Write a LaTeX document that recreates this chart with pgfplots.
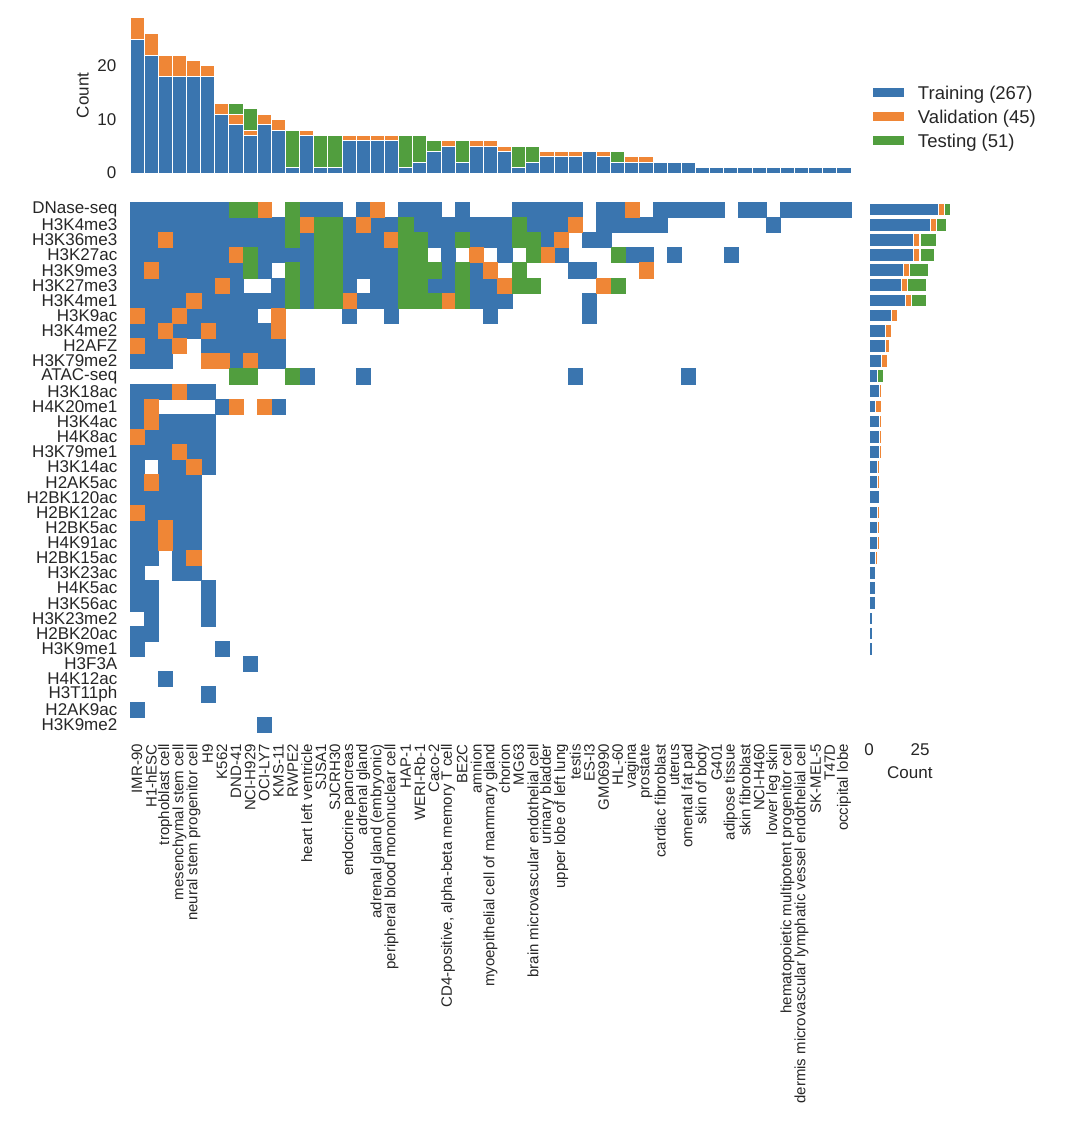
\documentclass[border=0pt]{standalone}
\usepackage{pgfplots}
\pgfplotsset{compat=1.18}
\usepackage{pgfplotstable}
\usepackage{fontspec}
\setmainfont{Liberation Sans}
\definecolor{cb}{RGB}{58,117,175}
\definecolor{co}{RGB}{239,134,54}
\definecolor{cg}{RGB}{81,158,62}
\definecolor{txt}{RGB}{38,38,38}
\newcommand{\fs}[1]{\fontsize{#1}{#1}\selectfont}

\pgfplotstableread{
c b o g
0 25 4 0
1 22 4 0
2 18 4 0
3 18 4 0
4 18 3 0
5 18 2 0
6 11 2 0
7 9 2 2
8 7 1 4
9 9 2 0
10 8 2 0
11 1 0 7
12 7 1 0
13 1 0 6
14 1 0 6
15 6 1 0
16 6 1 0
17 6 1 0
18 6 1 0
19 1 0 6
20 2 0 5
21 4 0 2
22 5 1 0
23 2 0 4
24 5 1 0
25 5 1 0
26 4 1 0
27 1 0 4
28 2 0 3
29 3 1 0
30 3 1 0
31 3 1 0
32 4 0 0
33 3 1 0
34 2 0 2
35 2 1 0
36 2 1 0
37 2 0 0
38 2 0 0
39 2 0 0
40 1 0 0
41 1 0 0
42 1 0 0
43 1 0 0
44 1 0 0
45 1 0 0
46 1 0 0
47 1 0 0
48 1 0 0
49 1 0 0
50 1 0 0
}\topdata

\pgfplotstableread{
r b o g
0 34 3 3
1 30 3 5
2 22 3 8
3 22 3 7
4 17 3 9
5 16 3 9
6 18 3 7
7 11 3 0
8 8 3 0
9 8 2 0
10 6 3 0
11 4 0 3
12 5 1 0
13 3 3 0
14 5 1 0
15 5 1 0
16 5 1 0
17 4 1 0
18 4 1 0
19 5 0 0
20 4 1 0
21 4 1 0
22 4 1 0
23 3 1 0
24 3 0 0
25 3 0 0
26 3 0 0
27 2 0 0
28 2 0 0
29 2 0 0
30 1 0 0
31 1 0 0
32 1 0 0
33 1 0 0
34 1 0 0
}\rightdata

\begin{document}
\begin{tikzpicture}
\useasboundingbox (0pt,0pt) rectangle (1088pt,-1122pt);

% ---------- top marginal bars ----------
\begin{axis}[
  at={(130pt,-173pt)}, anchor=south west,
  scale only axis, width=721pt, height=155.2pt,
  xmin=-0.5, xmax=50.5, ymin=0, ymax=29,
  ybar stacked, bar width=1,
  axis line style={draw=none}, tick style={draw=none}, major tick length=0pt,
  xtick=\empty,
  ytick={0,10,20}, yticklabels={0,10,20},
  yticklabel style={font=\fs{17}, text=txt, inner sep=0pt, anchor=east},
  yticklabel shift=13.5pt,
  every axis y label/.style={at={(axis description cs:-0.0656,0.5)}, rotate=90, anchor=center, font=\fs{17}, text=txt},
  ylabel={Count},
  clip=false,
  legend style={at={(axis description cs:1.0305,0.553)}, anchor=north west, draw=none, fill=none,
    inner sep=0pt, outer sep=0pt, row sep=8pt, column sep=14.4pt, font=\fs{18.5}, text=txt,
    nodes={inner sep=0pt, text height=12.5pt, text depth=3.5pt}},
  legend cell align=left,
  legend image code/.code={\fill[#1,draw=none] (0pt,-1.9pt) rectangle (30.6pt,7.5pt);},
]
\addplot[fill=cb, draw=white, line width=1pt] table[x=c,y=b]{\topdata};
\addlegendentry{Training (267)}
\addplot[fill=co, draw=white, line width=1pt] table[x=c,y=o]{\topdata};
\addlegendentry{Validation (45)}
\addplot[fill=cg, draw=white, line width=1pt] table[x=c,y=g]{\topdata};
\addlegendentry{Testing (51)}
\end{axis}

% ---------- heatmap ----------
\begin{axis}[
  at={(130pt,-202pt)}, anchor=north west,
  scale only axis, width=721pt, height=530pt,
  xmin=-0.5, xmax=50.5, ymin=-0.5, ymax=34.5, y dir=reverse,
  axis line style={draw=none}, tick style={draw=none}, major tick length=0pt,
  clip=false,
  xtick={0,...,50},
  xticklabels={IMR-90, H1-hESC, trophoblast cell, mesenchymal stem cell, neural stem progenitor cell, H9, K562, DND-41, NCI-H929, OCI-LY7, KMS-11, RWPE2, heart left ventricle, SJSA1, SJCRH30, endocrine pancreas, adrenal gland, adrenal gland (embryonic), peripheral blood mononuclear cell, HAP-1, WERI-Rb-1, Caco-2, {CD4-positive, alpha-beta memory T cell}, BE2C, amnion, myoepithelial cell of mammary gland, chorion, MG63, brain microvascular endothelial cell, urinary bladder, upper lobe of left lung, testis, ES-I3, GM06990, HL-60, vagina, prostate, cardiac fibroblast, uterus, omental fat pad, skin of body, G401, adipose tissue, skin fibroblast, NCI-H460, lower leg skin, hematopoietic multipotent progenitor cell, dermis microvascular lymphatic vessel endothelial cell, SK-MEL-5, T47D, occipital lobe},
  xticklabel style={rotate=90, anchor=east, inner sep=0pt, font=\fs{15}, text=txt},
  xticklabel shift=12pt,
  ytick={0,...,34},
  yticklabels={DNase-seq, H3K4me3, H3K36me3, H3K27ac, H3K9me3, H3K27me3, H3K4me1, H3K9ac, H3K4me2, H2AFZ, H3K79me2, ATAC-seq, H3K18ac, H4K20me1, H3K4ac, H4K8ac, H3K79me1, H3K14ac, H2AK5ac, H2BK120ac, H2BK12ac, H2BK5ac, H4K91ac, H2BK15ac, H3K23ac, H4K5ac, H3K56ac, H3K23me2, H2BK20ac, H3K9me1, H3F3A, H4K12ac, H3T11ph, H2AK9ac, H3K9me2},
  yticklabel style={anchor=east, inner sep=0pt, font=\fs{17}, text=txt},
  yticklabel shift=12.5pt,
]
% Training cells
\addplot[only marks, color=cb, mark=square*, mark size=7.07pt, mark options={line width=0.3pt, yscale=1.0707}] coordinates {
(0,0)(1,0)(2,0)(3,0)(4,0)(5,0)(6,0)(12,0)(13,0)(14,0)(16,0)(19,0)(20,0)(21,0)(23,0)(27,0)(28,0)(29,0)(30,0)(31,0)(33,0)(34,0)(37,0)(38,0)(39,0)(40,0)(41,0)(43,0)(44,0)(46,0)(47,0)(48,0)(49,0)(50,0)
(0,1)(1,1)(2,1)(3,1)(4,1)(5,1)(6,1)(7,1)(8,1)(9,1)(10,1)(15,1)(17,1)(18,1)(20,1)(21,1)(22,1)(23,1)(24,1)(25,1)(26,1)(28,1)(29,1)(30,1)(33,1)(34,1)(35,1)(36,1)(37,1)(45,1)
(0,2)(1,2)(3,2)(4,2)(5,2)(6,2)(7,2)(8,2)(9,2)(10,2)(12,2)(15,2)(16,2)(17,2)(21,2)(22,2)(24,2)(25,2)(26,2)(29,2)(32,2)(33,2)
(0,3)(1,3)(2,3)(3,3)(4,3)(5,3)(6,3)(9,3)(10,3)(11,3)(12,3)(15,3)(16,3)(17,3)(18,3)(22,3)(26,3)(30,3)(35,3)(36,3)(38,3)(42,3)
(0,4)(2,4)(3,4)(4,4)(5,4)(6,4)(7,4)(9,4)(12,4)(15,4)(16,4)(17,4)(18,4)(22,4)(24,4)(31,4)(32,4)
(0,5)(1,5)(2,5)(3,5)(4,5)(5,5)(7,5)(10,5)(12,5)(15,5)(17,5)(18,5)(21,5)(22,5)(24,5)(25,5)
(0,6)(1,6)(2,6)(3,6)(5,6)(6,6)(7,6)(8,6)(9,6)(10,6)(12,6)(16,6)(17,6)(18,6)(24,6)(25,6)(26,6)(32,6)
(1,7)(2,7)(4,7)(5,7)(6,7)(7,7)(8,7)(15,7)(18,7)(25,7)(32,7)
(0,8)(1,8)(3,8)(4,8)(6,8)(7,8)(8,8)(9,8)
(1,9)(2,9)(5,9)(6,9)(7,9)(8,9)(9,9)(10,9)
(0,10)(1,10)(2,10)(7,10)(9,10)(10,10)
(12,11)(16,11)(31,11)(39,11)
(0,12)(1,12)(2,12)(4,12)(5,12)
(0,13)(6,13)(10,13)
(0,14)(2,14)(3,14)(4,14)(5,14)
(1,15)(2,15)(3,15)(4,15)(5,15)
(0,16)(1,16)(2,16)(4,16)(5,16)
(0,17)(2,17)(3,17)(5,17)
(0,18)(2,18)(3,18)(4,18)
(0,19)(1,19)(2,19)(3,19)(4,19)
(1,20)(2,20)(3,20)(4,20)
(0,21)(1,21)(3,21)(4,21)
(0,22)(1,22)(3,22)(4,22)
(0,23)(1,23)(3,23)
(0,24)(3,24)(4,24)
(0,25)(1,25)(5,25)
(0,26)(1,26)(5,26)
(1,27)(5,27)
(0,28)(1,28)
(0,29)(6,29)
(8,30)(2,31)(5,32)(0,33)(9,34)
};
% Validation cells
\addplot[only marks, color=co, mark=square*, mark size=7.07pt, mark options={line width=0.3pt, yscale=1.0707}] coordinates {
(9,0)(17,0)(35,0)
(12,1)(16,1)(31,1)
(2,2)(18,2)(30,2)
(7,3)(24,3)(29,3)
(1,4)(25,4)(36,4)
(6,5)(26,5)(33,5)
(4,6)(15,6)(22,6)
(0,7)(3,7)(10,7)
(2,8)(5,8)(10,8)
(0,9)(3,9)
(5,10)(6,10)(8,10)
(3,12)
(1,13)(7,13)(9,13)
(1,14)(0,15)(3,16)(4,17)(1,18)(0,20)(2,21)(2,22)(4,23)
};
% Testing cells
\addplot[only marks, color=cg, mark=square*, mark size=7.07pt, mark options={line width=0.3pt, yscale=1.0707}] coordinates {
(7,0)(8,0)(11,0)
(11,1)(13,1)(14,1)(19,1)(27,1)
(11,2)(13,2)(14,2)(19,2)(20,2)(23,2)(27,2)(28,2)
(8,3)(13,3)(14,3)(19,3)(20,3)(28,3)(34,3)
(8,4)(11,4)(13,4)(14,4)(19,4)(20,4)(21,4)(23,4)(27,4)
(11,5)(13,5)(14,5)(19,5)(20,5)(23,5)(27,5)(28,5)(34,5)
(11,6)(13,6)(14,6)(19,6)(20,6)(21,6)(23,6)
(7,11)(8,11)(11,11)
};
\end{axis}

% ---------- right marginal bars ----------
\begin{axis}[
  at={(869pt,-202pt)}, anchor=north west,
  scale only axis, width=81.6pt, height=530pt,
  xmin=0, xmax=40, ymin=-0.5, ymax=34.5, y dir=reverse,
  xbar stacked, bar width=0.85,
  axis line style={draw=none}, tick style={draw=none}, major tick length=0pt,
  clip=false,
  ytick=\empty,
  xtick={0,25}, xticklabels={0,25},
  xticklabel style={font=\fs{17}, text=txt, inner sep=0pt, anchor=north},
  xticklabel shift=11pt,
  every axis x label/.style={at={(axis description cs:0.5,-0.0774)}, anchor=center, font=\fs{17}, text=txt},
  xlabel={Count},
]
\addplot[fill=cb, draw=white, line width=1.2pt] table[x=b,y=r]{\rightdata};
\addplot[fill=co, draw=white, line width=1.2pt] table[x=o,y=r]{\rightdata};
\addplot[fill=cg, draw=white, line width=1.2pt] table[x=g,y=r]{\rightdata};
\end{axis}
\end{tikzpicture}
\end{document}
